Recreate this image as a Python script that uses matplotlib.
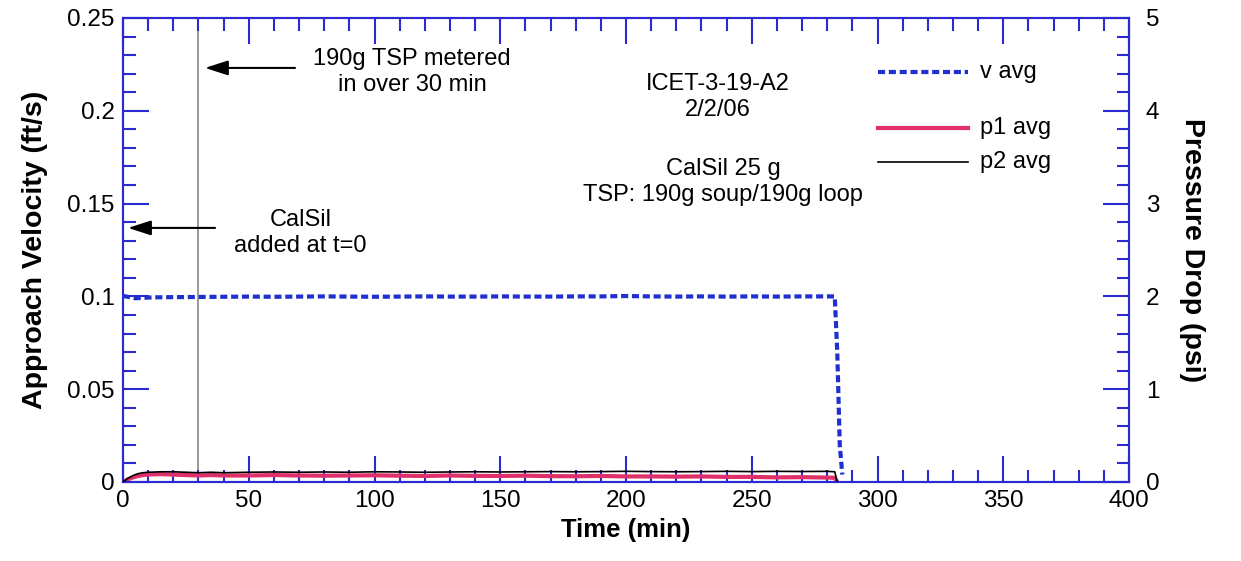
import matplotlib
matplotlib.use("Agg")
import matplotlib.pyplot as plt
from matplotlib.ticker import MultipleLocator

plt.rcParams['font.family'] = ['Liberation Sans', 'DejaVu Sans']

# Approach velocity record (ft/s)
v_time = [0, 1, 3, 5, 8, 12, 20, 30, 40, 50, 60, 70, 80, 90, 100, 110, 120, 130, 140,
          150, 160, 170, 180, 190, 200, 210, 220, 230, 240, 250, 260, 270, 280, 283,
          284, 285, 286]
v_avg = [0.1002, 0.1, 0.0995, 0.099, 0.0992, 0.0995, 0.0996, 0.0997, 0.0998, 0.0999,
         0.0998, 0.0999, 0.1, 0.0999, 0.0998, 0.0999, 0.1, 0.0999, 0.0999,
         0.1, 0.0999, 0.0999, 0.1, 0.1, 0.1002, 0.1, 0.0999, 0.1, 0.0999, 0.1, 0.0999,
         0.1, 0.1, 0.1, 0.07, 0.02, 0.004]

# Pressure drop records (psi)
p_time = [0, 2, 4, 6, 8, 10, 15, 20, 25, 30, 35, 40, 50, 60, 70, 80, 90, 100, 110, 120,
          130, 140, 150, 160, 170, 180, 190, 200, 210, 220, 230, 240, 250, 260, 270,
          280, 283, 284]
p1_avg = [0.0, 0.03, 0.05, 0.065, 0.075, 0.08, 0.085, 0.08, 0.075, 0.07, 0.075, 0.07,
          0.07, 0.075, 0.07, 0.068, 0.07, 0.072, 0.068, 0.065, 0.07, 0.066, 0.065, 0.068,
          0.063, 0.062, 0.065, 0.06, 0.06, 0.058, 0.06, 0.055, 0.055, 0.05, 0.052,
          0.048, 0.045, 0.0]
p2_avg = [0.0, 0.04, 0.07, 0.09, 0.1, 0.105, 0.11, 0.11, 0.105, 0.1, 0.105, 0.1,
          0.105, 0.108, 0.105, 0.108, 0.105, 0.11, 0.108, 0.105, 0.108, 0.11, 0.108,
          0.11, 0.112, 0.11, 0.112, 0.115, 0.112, 0.11, 0.112, 0.115, 0.112, 0.115,
          0.113, 0.115, 0.11, 0.0]

AX_BLUE = '#2a2ad0'
V_COLOR = '#1f2fd0'
P1_COLOR = '#e0306a'
V_DASH = (0, (1.7, 0.9))
ANN_SIZE = 17

fig = plt.figure(figsize=(12.41, 5.61), dpi=100)
ax = fig.add_axes([123 / 1241, 1 - 482 / 561, 1006 / 1241, 464 / 561])
ax2 = ax.twinx()

ax.plot(v_time, v_avg, color=V_COLOR, lw=3, ls=V_DASH, label='v avg', zorder=3)
ax2.plot(p_time, p1_avg, color=P1_COLOR, lw=3, label='p1 avg', zorder=2)
ax2.plot(p_time, p2_avg, color='black', lw=1.2, label='p2 avg', zorder=3)

ax.set_xlim(0, 400)
ax.set_ylim(0, 0.25)
ax2.set_ylim(0, 5)

ax.xaxis.set_major_locator(MultipleLocator(50))
ax.xaxis.set_minor_locator(MultipleLocator(10))
ax.yaxis.set_major_locator(MultipleLocator(0.05))
ax.yaxis.set_minor_locator(MultipleLocator(0.01))
ax2.yaxis.set_major_locator(MultipleLocator(1))
ax2.yaxis.set_minor_locator(MultipleLocator(0.2))

ax.set_yticks([0, 0.05, 0.1, 0.15, 0.2, 0.25])
ax.set_yticklabels(['0', '0.05', '0.1', '0.15', '0.2', '0.25'])

for a in (ax, ax2):
    for s in a.spines.values():
        s.set_color(AX_BLUE)
        s.set_linewidth(1.5)
    a.tick_params(which='major', direction='in', length=19, width=1.5,
                  color=AX_BLUE, labelsize=17.5, pad=6)
    a.tick_params(which='minor', direction='in', length=9, width=1.5,
                  color=AX_BLUE)
ax.tick_params(top=True, which='both')
ax.tick_params(axis='x', pad=6)
ax2.tick_params(axis='y', pad=12)

ax.set_xlabel('Time (min)', fontsize=18.5, fontweight='bold', labelpad=4)
ax.set_ylabel('Approach Velocity (ft/s)', fontsize=20.5, fontweight='bold',
              labelpad=14)
ax2.set_ylabel('Pressure Drop (psi)', fontsize=20.5, fontweight='bold', rotation=270,
               labelpad=33)

# TSP metering marker
ax.axvline(30, color='#888888', lw=1.2, zorder=1)

arrow = dict(arrowstyle='-|>,head_length=1.4,head_width=0.45', color='black', lw=1.5,
             shrinkA=0, shrinkB=0)
ax.annotate('', xy=(32.6, 0.2231), xytext=(68.4, 0.2231), arrowprops=arrow)
ax.text(115, 0.2209, '190g TSP metered\nin over 30 min', ha='center', va='center',
        fontsize=ANN_SIZE, linespacing=1.2)
ax.annotate('', xy=(2, 0.1369), xytext=(36.6, 0.1369), arrowprops=arrow)
ax.text(70.5, 0.1342, 'CalSil\nadded at t=0', ha='center', va='center',
        fontsize=ANN_SIZE, linespacing=1.2)

ax.text(236.5, 0.2074, 'ICET-3-19-A2\n2/2/06', ha='center', va='center',
        fontsize=ANN_SIZE, linespacing=1.2)
ax.text(238.6, 0.1616, 'CalSil 25 g\nTSP: 190g soup/190g loop', ha='center',
        va='center', fontsize=ANN_SIZE, linespacing=1.2)

# Legend entries drawn by hand to keep their uneven spacing
ax.plot([300.2, 336], [0.2209, 0.2209], color=V_COLOR, lw=3, ls=V_DASH)
ax.text(340.8, 0.2209, 'v avg', va='center', fontsize=ANN_SIZE)
ax.plot([300.2, 336], [0.1907, 0.1907], color=P1_COLOR, lw=3)
ax.text(340.8, 0.1907, 'p1 avg', va='center', fontsize=ANN_SIZE)
ax.plot([300.2, 336], [0.1724, 0.1724], color='black', lw=1.2)
ax.text(340.8, 0.1724, 'p2 avg', va='center', fontsize=ANN_SIZE)

fig.savefig('out.png', dpi=100)
